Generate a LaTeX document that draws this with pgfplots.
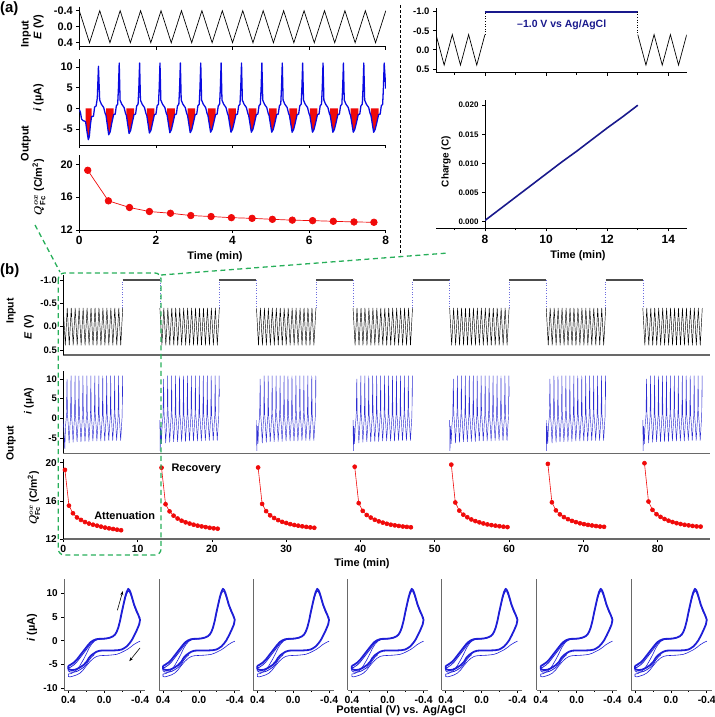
\documentclass[border=0pt]{standalone}
\usepackage{pgfplots}
\pgfplotsset{compat=1.18}
\usepackage{pgfplotstable}
\usepackage{fontspec}
\setmainfont{Liberation Sans}
\usetikzlibrary{arrows.meta}
\definecolor{cblue}{RGB}{10,10,225}
\definecolor{navy}{RGB}{25,25,140}
\definecolor{bblue}{RGB}{45,45,210}
\definecolor{cvblue}{RGB}{30,30,215}
\definecolor{cred}{RGB}{240,10,10}
\definecolor{cgreen}{RGB}{40,175,90}
\definecolor{spinegray}{RGB}{105,105,105}
\newcommand{\fs}[1]{\fontsize{#1}{#1}\selectfont\bfseries}
\pgfplotsset{
 base/.style={scale only axis, anchor=south west,
  axis x line=bottom, axis y line=left,
  tick align=outside, major tick length=3bp, minor tick length=1.8bp,
  every tick/.style={black, line width=0.7pt},
  axis line style={line width=0.8pt, -},
  /pgf/number format/assume math mode=true,
  ticklabel style={font=\fs{11}}},
 cvstyle/.style={base, width=80.7bp, height=110.7bp, x dir=reverse,
  xmin=-0.455, xmax=0.445, ymin=-10.35, ymax=12.9,
  xtick={-0.4,0,0.4}, xticklabels={-0.4,0.0,0.4}, minor xtick={-0.2,0.2},
  ticklabel style={font=\fs{10.5}}, axis line style={spinegray, line width=0.9pt}},
}
\pgfplotstableread{
E I
0.400 -5.3
0.380 -5.1
0.340 -4.6
0.307 -4.0
0.270 -3.1
0.233 -2.2
0.200 -1.4
0.177 -0.85
0.150 -0.3
0.121 0.07
0.090 0.3
0.065 0.38
0.009 0.42
-0.030 0.5
-0.065 0.65
-0.100 0.95
-0.121 1.3
-0.140 1.9
-0.158 2.8
-0.177 4.2
-0.195 5.9
-0.215 7.6
-0.233 9.1
-0.250 10.2
-0.268 10.9
-0.283 10.6
-0.296 10.0
-0.315 8.8
-0.333 7.6
-0.360 6.3
-0.381 5.4
-0.400 4.4
-0.390 3.4
-0.363 2.2
-0.335 1.1
-0.307 0.1
-0.280 -0.6
-0.251 -1.2
-0.220 -1.6
-0.195 -1.85
-0.150 -2.0
-0.102 -2.04
-0.050 -2.04
0.009 -2.04
0.050 -2.1
0.084 -2.3
0.110 -2.6
0.140 -3.0
0.170 -3.6
0.195 -4.4
0.230 -5.1
0.270 -5.6
0.300 -5.9
0.326 -6.1
0.360 -6.15
0.381 -6.1
0.400 -5.9
0.400 -5.3
}\cvA
\pgfplotstableread{
E I
0.110 -2.9
0.140 -3.4
0.170 -4.1
0.195 -4.9
0.230 -5.6
0.270 -6.1
0.300 -6.4
0.326 -6.55
0.360 -6.6
0.381 -6.55
0.400 -6.3
0.400 -5.7
0.380 -5.6
0.340 -5.1
0.307 -4.5
0.270 -3.6
0.233 -2.7
0.200 -1.9
0.177 -1.3
0.150 -0.65
0.121 -0.15
0.090 0.2
}\cvB
\pgfplotstableread{
E I
-0.400 -0.1
-0.370 -0.35
-0.326 -0.85
-0.290 -1.4
-0.251 -1.9
-0.210 -2.3
-0.177 -2.6
-0.140 -2.85
-0.102 -2.96
-0.050 -3.05
0.009 -3.1
0.050 -3.15
0.084 -3.3
0.120 -3.7
0.158 -4.37
0.200 -5.3
0.233 -6.13
0.270 -6.8
0.307 -7.18
0.350 -7.45
0.381 -7.6
0.400 -7.5
0.400 -7.0
0.370 -6.9
0.340 -6.6
0.300 -6.0
0.270 -5.2
0.233 -4.0
0.200 -2.8
0.170 -1.6
0.140 -0.7
0.110 -0.1
0.080 0.2
0.040 0.3
0.000 0.35
-0.050 0.5
-0.100 0.85
-0.130 1.5
-0.155 2.6
-0.180 4.3
-0.200 6.0
-0.225 8.2
-0.250 9.8
-0.268 10.4
-0.283 10.2
-0.300 9.4
-0.330 7.5
-0.360 6.0
-0.400 4.8
}\cvFirst
\begin{document}
\begin{tikzpicture}
\path[use as bounding box] (0bp,0bp) rectangle (715bp,-717bp);
% ================= (a) left: input =================
\begin{axis}[base, at={(79.3bp,-46.7bp)}, width=306.5bp, height=40bp,
 xmin=0, xmax=8, ymin=-0.5, ymax=0.5, y dir=reverse,
 xtick={0,2,4,6,8}, xticklabels={}, ytick={-0.4,0,0.4}, yticklabels={-0.4,0.0,0.4}]
\addplot[black, line width=0.7pt] coordinates {(0,-0.4)(0.2667,0.4)(0.5333,-0.4)(0.8,0.4)(1.0667,-0.4)(1.3333,0.4)(1.6,-0.4)(1.8667,0.4)(2.1333,-0.4)(2.4,0.4)(2.6667,-0.4)(2.9333,0.4)(3.2,-0.4)(3.4667,0.4)(3.7333,-0.4)(4,0.4)(4.2667,-0.4)(4.5333,0.4)(4.8,-0.4)(5.0667,0.4)(5.3333,-0.4)(5.6,0.4)(5.8667,-0.4)(6.1333,0.4)(6.4,-0.4)(6.6667,0.4)(6.9333,-0.4)(7.2,0.4)(7.4667,-0.4)(7.7333,0.4)(8,-0.4)};
\end{axis}
% ================= (a) left: current =================
\begin{axis}[base, at={(79.3bp,-145bp)}, width=306.5bp, height=85.7bp,
 xmin=0, xmax=8, ymin=-8.9, ymax=11.9,
 xtick={0,2,4,6,8}, xticklabels={}, ytick={-5,0,5,10}, yticklabels={-5,0,5,10}]
\addplot[fill=cred, draw=none] coordinates {(0.165,0)(0.165,-3.3)(0.20,-5.6)(0.235,-7.6)(0.26,-6.9)(0.29,-4.0)(0.32,-2.0)(0.32,0)};
\addplot[fill=cred, draw=none] coordinates {(0.697,0)(0.697,-1.7)(0.767,-6.4)(0.807,-5.7)(0.847,-3.6)(0.897,-1.5)(0.897,0)};
\addplot[fill=cred, draw=none] coordinates {(1.229,0)(1.229,-1.7)(1.299,-6.1)(1.339,-5.4)(1.379,-3.6)(1.429,-1.5)(1.429,0)};
\addplot[fill=cred, draw=none] coordinates {(1.761,0)(1.761,-1.7)(1.831,-6.0)(1.871,-5.3)(1.911,-3.6)(1.961,-1.5)(1.961,0)};
\addplot[fill=cred, draw=none] coordinates {(2.293,0)(2.293,-1.7)(2.363,-5.9)(2.403,-5.2)(2.443,-3.6)(2.493,-1.5)(2.493,0)};
\addplot[fill=cred, draw=none] coordinates {(2.825,0)(2.825,-1.7)(2.895,-5.9)(2.935,-5.2)(2.975,-3.6)(3.025,-1.5)(3.025,0)};
\addplot[fill=cred, draw=none] coordinates {(3.357,0)(3.357,-1.7)(3.427,-5.8)(3.467,-5.1)(3.507,-3.6)(3.557,-1.5)(3.557,0)};
\addplot[fill=cred, draw=none] coordinates {(3.889,0)(3.889,-1.7)(3.959,-5.8)(3.999,-5.1)(4.039,-3.6)(4.089,-1.5)(4.089,0)};
\addplot[fill=cred, draw=none] coordinates {(4.421,0)(4.421,-1.7)(4.491,-5.8)(4.531,-5.1)(4.571,-3.6)(4.621,-1.5)(4.621,0)};
\addplot[fill=cred, draw=none] coordinates {(4.953,0)(4.953,-1.7)(5.023,-5.8)(5.063,-5.1)(5.103,-3.6)(5.153,-1.5)(5.153,0)};
\addplot[fill=cred, draw=none] coordinates {(5.485,0)(5.485,-1.7)(5.555,-5.8)(5.595,-5.1)(5.635,-3.6)(5.685,-1.5)(5.685,0)};
\addplot[fill=cred, draw=none] coordinates {(6.017,0)(6.017,-1.7)(6.087,-5.8)(6.127,-5.1)(6.167,-3.6)(6.217,-1.5)(6.217,0)};
\addplot[fill=cred, draw=none] coordinates {(6.549,0)(6.549,-1.7)(6.619,-5.8)(6.659,-5.1)(6.699,-3.6)(6.749,-1.5)(6.749,0)};
\addplot[fill=cred, draw=none] coordinates {(7.081,0)(7.081,-1.7)(7.151,-5.8)(7.191,-5.1)(7.231,-3.6)(7.281,-1.5)(7.281,0)};
\addplot[fill=cred, draw=none] coordinates {(7.613,0)(7.613,-1.7)(7.683,-5.8)(7.723,-5.1)(7.763,-3.6)(7.813,-1.5)(7.813,0)};
\addplot[cblue, line width=1.3pt, line join=round] coordinates {
(0,-0.3)(0.03,-1.0)(0.06,-2.6)(0.10,-3.0)(0.14,-3.1)(0.165,-3.3)(0.20,-5.6)(0.235,-7.6)(0.26,-6.9)(0.29,-4.0)(0.32,-2.0)(0.37,-1.9)(0.40,0.3)(0.44,0.6)(0.47,2.5)(0.50,10.2)
(0.532,2.0)(0.577,1.0)(0.637,0.2)(0.677,-1.3)(0.697,-1.7)(0.767,-6.4)(0.807,-5.7)(0.847,-3.6)(0.897,-1.5)(0.937,-1.4)(0.967,0.6)(1.002,1.0)(1.022,5.0)(1.042,11.0)
(1.064,2.0)(1.109,1.0)(1.169,0.2)(1.209,-1.3)(1.229,-1.7)(1.299,-6.1)(1.339,-5.4)(1.379,-3.6)(1.429,-1.5)(1.469,-1.4)(1.499,0.6)(1.534,1.0)(1.554,5.0)(1.574,11.0)
(1.596,2.0)(1.641,1.0)(1.701,0.2)(1.741,-1.3)(1.761,-1.7)(1.831,-6.0)(1.871,-5.3)(1.911,-3.6)(1.961,-1.5)(2.001,-1.4)(2.031,0.6)(2.066,1.0)(2.086,5.0)(2.106,11.0)
(2.128,2.0)(2.173,1.0)(2.233,0.2)(2.273,-1.3)(2.293,-1.7)(2.363,-5.9)(2.403,-5.2)(2.443,-3.6)(2.493,-1.5)(2.533,-1.4)(2.563,0.6)(2.598,1.0)(2.618,5.0)(2.638,11.0)
(2.660,2.0)(2.705,1.0)(2.765,0.2)(2.805,-1.3)(2.825,-1.7)(2.895,-5.9)(2.935,-5.2)(2.975,-3.6)(3.025,-1.5)(3.065,-1.4)(3.095,0.6)(3.130,1.0)(3.150,5.0)(3.170,11.0)
(3.192,2.0)(3.237,1.0)(3.297,0.2)(3.337,-1.3)(3.357,-1.7)(3.427,-5.8)(3.467,-5.1)(3.507,-3.6)(3.557,-1.5)(3.597,-1.4)(3.627,0.6)(3.662,1.0)(3.682,5.0)(3.702,11.0)
(3.724,2.0)(3.769,1.0)(3.829,0.2)(3.869,-1.3)(3.889,-1.7)(3.959,-5.8)(3.999,-5.1)(4.039,-3.6)(4.089,-1.5)(4.129,-1.4)(4.159,0.6)(4.194,1.0)(4.214,5.0)(4.234,11.0)
(4.256,2.0)(4.301,1.0)(4.361,0.2)(4.401,-1.3)(4.421,-1.7)(4.491,-5.8)(4.531,-5.1)(4.571,-3.6)(4.621,-1.5)(4.661,-1.4)(4.691,0.6)(4.726,1.0)(4.746,5.0)(4.766,11.0)
(4.788,2.0)(4.833,1.0)(4.893,0.2)(4.933,-1.3)(4.953,-1.7)(5.023,-5.8)(5.063,-5.1)(5.103,-3.6)(5.153,-1.5)(5.193,-1.4)(5.223,0.6)(5.258,1.0)(5.278,5.0)(5.298,11.0)
(5.320,2.0)(5.365,1.0)(5.425,0.2)(5.465,-1.3)(5.485,-1.7)(5.555,-5.8)(5.595,-5.1)(5.635,-3.6)(5.685,-1.5)(5.725,-1.4)(5.755,0.6)(5.790,1.0)(5.810,5.0)(5.830,11.0)
(5.852,2.0)(5.897,1.0)(5.957,0.2)(5.997,-1.3)(6.017,-1.7)(6.087,-5.8)(6.127,-5.1)(6.167,-3.6)(6.217,-1.5)(6.257,-1.4)(6.287,0.6)(6.322,1.0)(6.342,5.0)(6.362,11.0)
(6.384,2.0)(6.429,1.0)(6.489,0.2)(6.529,-1.3)(6.549,-1.7)(6.619,-5.8)(6.659,-5.1)(6.699,-3.6)(6.749,-1.5)(6.789,-1.4)(6.819,0.6)(6.854,1.0)(6.874,5.0)(6.894,11.0)
(6.916,2.0)(6.961,1.0)(7.021,0.2)(7.061,-1.3)(7.081,-1.7)(7.151,-5.8)(7.191,-5.1)(7.231,-3.6)(7.281,-1.5)(7.321,-1.4)(7.351,0.6)(7.386,1.0)(7.406,5.0)(7.426,11.0)
(7.448,2.0)(7.493,1.0)(7.553,0.2)(7.593,-1.3)(7.613,-1.7)(7.683,-5.8)(7.723,-5.1)(7.763,-3.6)(7.813,-1.5)(7.853,-1.4)(7.883,0.6)(7.918,1.0)(7.938,5.0)(7.958,11.0)
(8.0,4.8)};
\end{axis}
% ================= (a) left: Q =================
\begin{axis}[base, at={(79.3bp,-230bp)}, width=306.5bp, height=75bp,
 xmin=0, xmax=8, ymin=12, ymax=21.13,
 xtick={0,2,4,6,8}, xticklabels={0,2,4,6,8}, ytick={12,16,20}, yticklabels={12,16,20},
 xticklabel style={font=\fs{12}}]
\addplot[cred, line width=0.7pt, mark=*, mark size=3.3bp] coordinates {(0.22,19.27)(0.76,15.55)(1.31,14.74)(1.83,14.25)(2.38,14.04)(2.91,13.76)(3.44,13.64)(3.97,13.5)(4.51,13.42)(5.04,13.3)(5.56,13.2)(6.09,13.14)(6.63,13.06)(7.17,12.98)(7.69,12.94)};
\end{axis}
% ================= (a) right: input =================
\begin{axis}[base, at={(436bp,-72.7bp)}, width=250.7bp, height=64.4bp,
 xmin=6.4, xmax=14.6, ymin=-1.09, ymax=0.6, y dir=reverse,
 xtick={8,10,12,14}, minor xtick={7,9,11,13}, xticklabels={},
 ytick={-1,-0.5,0,0.5}, yticklabels={-1.0,-0.5,0.0,0.5}, yticklabel style={font=\fs{9.5}}]
\addplot[black, line width=0.7pt] coordinates {(6.4,-0.4)(6.667,0.4)(6.933,-0.4)(7.2,0.4)(7.467,-0.4)(7.733,0.4)(8.0,-0.4)};
\addplot[black, dotted, line width=0.6pt] coordinates {(8,-0.4)(8,-1.0)};
\addplot[navy, line width=1.6pt] coordinates {(8,-1.0)(13,-1.0)};
\addplot[black, dotted, line width=0.6pt] coordinates {(13,-1.0)(13,-0.4)};
\addplot[black, line width=0.7pt] coordinates {(13,-0.4)(13.267,0.4)(13.533,-0.4)(13.8,0.4)(14.067,-0.4)(14.333,0.4)(14.6,-0.4)};
\end{axis}
% ================= (a) right: charge =================
\begin{axis}[base, at={(485bp,-228.3bp)}, width=201.7bp, height=128.3bp,
 xmin=8, xmax=14.6, ymin=-0.00115, ymax=0.0209, axis x line=none,
 scaled y ticks=false, ytick={0,0.005,0.01,0.015,0.02},
 yticklabels={0.000,0.005,0.010,0.015,0.020}, yticklabel style={font=\fs{8}}]
\addplot[navy, line width=1.6pt] coordinates {(8.0,0.0002)(8.5,0.0022)(9,0.0042)(9.5,0.0062)(10,0.0082)(10.5,0.0102)(11,0.0121)(11.5,0.0141)(12,0.0161)(12.5,0.0180)(13,0.0200)};
\end{axis}
\begin{axis}[base, at={(436bp,-228.3bp)}, width=250.7bp, height=128.3bp,
 xmin=6.4, xmax=14.6, ymin=0, ymax=1, axis y line=none,
 xtick={8,10,12,14}, minor xtick={7,9,11,13}, xticklabels={8,10,12,14}, xticklabel style={font=\fs{12}}]
\addplot[draw=none] coordinates {(8,0.5)};
\end{axis}
% ================= (b) input =================
\begin{axis}[base, at={(63.3bp,-355bp)}, width=646.7bp, height=80bp,
 xmin=0, xmax=87.04, ymin=-1.107, ymax=0.607, y dir=reverse,
 xtick=\empty, ytick={-1,-0.5,0,0.5}, yticklabels={-1.0,-0.5,0.0,0.5},
 yticklabel style={font=\fs{9.5}}, x axis line style={spinegray, line width=1.5pt}]
\addplot[black, line width=0.45pt] coordinates {(0,-0.4)(0.27,0.4)(0.53,-0.4)(0.8,0.4)(1.07,-0.4)(1.33,0.4)(1.6,-0.4)(1.87,0.4)(2.13,-0.4)(2.4,0.4)(2.67,-0.4)(2.93,0.4)(3.2,-0.4)(3.47,0.4)(3.73,-0.4)(4,0.4)(4.27,-0.4)(4.53,0.4)(4.8,-0.4)(5.07,0.4)(5.33,-0.4)(5.6,0.4)(5.87,-0.4)(6.13,0.4)(6.4,-0.4)(6.67,0.4)(6.93,-0.4)(7.2,0.4)(7.47,-0.4)(7.73,0.4)(8,-0.4)};
\addplot[black, line width=0.45pt] coordinates {(13,-0.4)(13.27,0.4)(13.53,-0.4)(13.8,0.4)(14.07,-0.4)(14.33,0.4)(14.6,-0.4)(14.87,0.4)(15.13,-0.4)(15.4,0.4)(15.67,-0.4)(15.93,0.4)(16.2,-0.4)(16.47,0.4)(16.73,-0.4)(17,0.4)(17.27,-0.4)(17.53,0.4)(17.8,-0.4)(18.07,0.4)(18.33,-0.4)(18.6,0.4)(18.87,-0.4)(19.13,0.4)(19.4,-0.4)(19.67,0.4)(19.93,-0.4)(20.2,0.4)(20.47,-0.4)(20.73,0.4)(21,-0.4)};
\addplot[black, line width=0.45pt] coordinates {(26,-0.4)(26.27,0.4)(26.53,-0.4)(26.8,0.4)(27.07,-0.4)(27.33,0.4)(27.6,-0.4)(27.87,0.4)(28.13,-0.4)(28.4,0.4)(28.67,-0.4)(28.93,0.4)(29.2,-0.4)(29.47,0.4)(29.73,-0.4)(30,0.4)(30.27,-0.4)(30.53,0.4)(30.8,-0.4)(31.07,0.4)(31.33,-0.4)(31.6,0.4)(31.87,-0.4)(32.13,0.4)(32.4,-0.4)(32.67,0.4)(32.93,-0.4)(33.2,0.4)(33.47,-0.4)(33.73,0.4)(34,-0.4)};
\addplot[black, line width=0.45pt] coordinates {(39,-0.4)(39.27,0.4)(39.53,-0.4)(39.8,0.4)(40.07,-0.4)(40.33,0.4)(40.6,-0.4)(40.87,0.4)(41.13,-0.4)(41.4,0.4)(41.67,-0.4)(41.93,0.4)(42.2,-0.4)(42.47,0.4)(42.73,-0.4)(43,0.4)(43.27,-0.4)(43.53,0.4)(43.8,-0.4)(44.07,0.4)(44.33,-0.4)(44.6,0.4)(44.87,-0.4)(45.13,0.4)(45.4,-0.4)(45.67,0.4)(45.93,-0.4)(46.2,0.4)(46.47,-0.4)(46.73,0.4)(47,-0.4)};
\addplot[black, line width=0.45pt] coordinates {(52,-0.4)(52.27,0.4)(52.53,-0.4)(52.8,0.4)(53.07,-0.4)(53.33,0.4)(53.6,-0.4)(53.87,0.4)(54.13,-0.4)(54.4,0.4)(54.67,-0.4)(54.93,0.4)(55.2,-0.4)(55.47,0.4)(55.73,-0.4)(56,0.4)(56.27,-0.4)(56.53,0.4)(56.8,-0.4)(57.07,0.4)(57.33,-0.4)(57.6,0.4)(57.87,-0.4)(58.13,0.4)(58.4,-0.4)(58.67,0.4)(58.93,-0.4)(59.2,0.4)(59.47,-0.4)(59.73,0.4)(60,-0.4)};
\addplot[black, line width=0.45pt] coordinates {(65,-0.4)(65.27,0.4)(65.53,-0.4)(65.8,0.4)(66.07,-0.4)(66.33,0.4)(66.6,-0.4)(66.87,0.4)(67.13,-0.4)(67.4,0.4)(67.67,-0.4)(67.93,0.4)(68.2,-0.4)(68.47,0.4)(68.73,-0.4)(69,0.4)(69.27,-0.4)(69.53,0.4)(69.8,-0.4)(70.07,0.4)(70.33,-0.4)(70.6,0.4)(70.87,-0.4)(71.13,0.4)(71.4,-0.4)(71.67,0.4)(71.93,-0.4)(72.2,0.4)(72.47,-0.4)(72.73,0.4)(73,-0.4)};
\addplot[black, line width=0.45pt] coordinates {(78,-0.4)(78.27,0.4)(78.53,-0.4)(78.8,0.4)(79.07,-0.4)(79.33,0.4)(79.6,-0.4)(79.87,0.4)(80.13,-0.4)(80.4,0.4)(80.67,-0.4)(80.93,0.4)(81.2,-0.4)(81.47,0.4)(81.73,-0.4)(82,0.4)(82.27,-0.4)(82.53,0.4)(82.8,-0.4)(83.07,0.4)(83.33,-0.4)(83.6,0.4)(83.87,-0.4)(84.13,0.4)(84.4,-0.4)(84.67,0.4)(84.93,-0.4)(85.2,0.4)(85.47,-0.4)(85.73,0.4)(86,-0.4)};
\addplot[black!70, line width=1.2pt, unbounded coords=jump] coordinates {(8,-1)(13,-1)(13,nan)(21,-1)(26,-1)(26,nan)(34,-1)(39,-1)(39,nan)(47,-1)(52,-1)(52,nan)(60,-1)(65,-1)(65,nan)(73,-1)(78,-1)};
\addplot[bblue!70, dotted, line width=0.6pt, unbounded coords=jump] coordinates {(8,-0.4)(8,-1)(8,nan)(13,-1)(13,-0.4)(13,nan)(21,-0.4)(21,-1)(21,nan)(26,-1)(26,-0.4)(26,nan)(34,-0.4)(34,-1)(34,nan)(39,-1)(39,-0.4)(39,nan)(47,-0.4)(47,-1)(47,nan)(52,-1)(52,-0.4)(52,nan)(60,-0.4)(60,-1)(60,nan)(65,-1)(65,-0.4)(65,nan)(73,-0.4)(73,-1)(73,nan)(78,-1)(78,-0.4)};
\end{axis}
% ================= (b) current =================
\begin{axis}[base, at={(63.3bp,-453.3bp)}, width=646.7bp, height=82.3bp,
 xmin=0, xmax=87.04, ymin=-8.9, ymax=12.0,
 xtick=\empty, ytick={-5,0,5,10}, yticklabels={-5,0,5,10},
 yticklabel style={font=\fs{9.5}}, x axis line style={spinegray, line width=1.5pt}]
\addplot[bblue, line width=0.45pt] coordinates {(0,-0.5)(0.08,-3.0)(0.20,-7.8)(0.30,-2.0)(0.42,0.5)(0.50,10.0)
(0.56,1.0)(0.66,-1.5)(0.78,-6.3)(0.91,-1.5)(0.98,0.5)(1.04,10.8)(1.10,1.0)(1.20,-1.5)(1.32,-6.1)(1.45,-1.5)(1.52,0.5)(1.58,10.8)
(1.63,1.0)(1.73,-1.5)(1.85,-6.0)(1.98,-1.5)(2.05,0.5)(2.11,10.8)(2.16,1.0)(2.26,-1.5)(2.38,-6.0)(2.51,-1.5)(2.58,0.5)(2.64,10.8)
(2.70,1.0)(2.80,-1.5)(2.92,-5.9)(3.05,-1.5)(3.12,0.5)(3.18,10.8)(3.23,1.0)(3.33,-1.5)(3.45,-5.9)(3.58,-1.5)(3.65,0.5)(3.71,10.8)
(3.76,1.0)(3.86,-1.5)(3.98,-5.8)(4.11,-1.5)(4.18,0.5)(4.24,10.8)(4.30,1.0)(4.40,-1.5)(4.52,-5.8)(4.65,-1.5)(4.72,0.5)(4.78,10.8)
(4.83,1.0)(4.93,-1.5)(5.05,-5.8)(5.18,-1.5)(5.25,0.5)(5.31,10.8)(5.36,1.0)(5.46,-1.5)(5.58,-5.8)(5.71,-1.5)(5.78,0.5)(5.84,10.8)
(5.90,1.0)(6.00,-1.5)(6.12,-5.7)(6.25,-1.5)(6.32,0.5)(6.38,10.8)(6.43,1.0)(6.53,-1.5)(6.65,-5.7)(6.78,-1.5)(6.85,0.5)(6.91,10.8)
(6.96,1.0)(7.06,-1.5)(7.18,-5.7)(7.31,-1.5)(7.38,0.5)(7.44,10.8)(7.50,1.0)(7.60,-1.5)(7.72,-5.7)(7.85,-1.5)(7.92,0.5)(7.98,10.8)(8.00,5.5)};
\addplot[bblue, line width=0.45pt] coordinates {(13,-0.5)(13.04,-8.3)(13.12,-2.0)(13.20,-6.5)(13.30,-2.0)(13.42,0.5)(13.50,10.0)
(13.56,1.0)(13.66,-1.5)(13.78,-6.3)(13.91,-1.5)(13.98,0.5)(14.04,10.8)(14.10,1.0)(14.20,-1.5)(14.32,-6.1)(14.45,-1.5)(14.52,0.5)(14.58,10.8)
(14.63,1.0)(14.73,-1.5)(14.85,-6.0)(14.98,-1.5)(15.05,0.5)(15.11,10.8)(15.16,1.0)(15.26,-1.5)(15.38,-6.0)(15.51,-1.5)(15.58,0.5)(15.64,10.8)
(15.70,1.0)(15.80,-1.5)(15.92,-5.9)(16.05,-1.5)(16.12,0.5)(16.18,10.8)(16.23,1.0)(16.33,-1.5)(16.45,-5.9)(16.58,-1.5)(16.65,0.5)(16.71,10.8)
(16.76,1.0)(16.86,-1.5)(16.98,-5.8)(17.11,-1.5)(17.18,0.5)(17.24,10.8)(17.30,1.0)(17.40,-1.5)(17.52,-5.8)(17.65,-1.5)(17.72,0.5)(17.78,10.8)
(17.83,1.0)(17.93,-1.5)(18.05,-5.8)(18.18,-1.5)(18.25,0.5)(18.31,10.8)(18.36,1.0)(18.46,-1.5)(18.58,-5.8)(18.71,-1.5)(18.78,0.5)(18.84,10.8)
(18.90,1.0)(19.00,-1.5)(19.12,-5.7)(19.25,-1.5)(19.32,0.5)(19.38,10.8)(19.43,1.0)(19.53,-1.5)(19.65,-5.7)(19.78,-1.5)(19.85,0.5)(19.91,10.8)
(19.96,1.0)(20.06,-1.5)(20.18,-5.7)(20.31,-1.5)(20.38,0.5)(20.44,10.8)(20.50,1.0)(20.60,-1.5)(20.72,-5.7)(20.85,-1.5)(20.92,0.5)(20.98,10.8)(21.00,5.5)};
\addplot[bblue, line width=0.45pt] coordinates {(26,-0.5)(26.04,-8.3)(26.12,-2.0)(26.20,-6.5)(26.30,-2.0)(26.42,0.5)(26.50,10.0)
(26.56,1.0)(26.66,-1.5)(26.78,-6.3)(26.91,-1.5)(26.98,0.5)(27.04,10.8)(27.10,1.0)(27.20,-1.5)(27.32,-6.1)(27.45,-1.5)(27.52,0.5)(27.58,10.8)
(27.63,1.0)(27.73,-1.5)(27.85,-6.0)(27.98,-1.5)(28.05,0.5)(28.11,10.8)(28.16,1.0)(28.26,-1.5)(28.38,-6.0)(28.51,-1.5)(28.58,0.5)(28.64,10.8)
(28.70,1.0)(28.80,-1.5)(28.92,-5.9)(29.05,-1.5)(29.12,0.5)(29.18,10.8)(29.23,1.0)(29.33,-1.5)(29.45,-5.9)(29.58,-1.5)(29.65,0.5)(29.71,10.8)
(29.76,1.0)(29.86,-1.5)(29.98,-5.8)(30.11,-1.5)(30.18,0.5)(30.24,10.8)(30.30,1.0)(30.40,-1.5)(30.52,-5.8)(30.65,-1.5)(30.72,0.5)(30.78,10.8)
(30.83,1.0)(30.93,-1.5)(31.05,-5.8)(31.18,-1.5)(31.25,0.5)(31.31,10.8)(31.36,1.0)(31.46,-1.5)(31.58,-5.8)(31.71,-1.5)(31.78,0.5)(31.84,10.8)
(31.90,1.0)(32.00,-1.5)(32.12,-5.7)(32.25,-1.5)(32.32,0.5)(32.38,10.8)(32.43,1.0)(32.53,-1.5)(32.65,-5.7)(32.78,-1.5)(32.85,0.5)(32.91,10.8)
(32.96,1.0)(33.06,-1.5)(33.18,-5.7)(33.31,-1.5)(33.38,0.5)(33.44,10.8)(33.50,1.0)(33.60,-1.5)(33.72,-5.7)(33.85,-1.5)(33.92,0.5)(33.98,10.8)(34.00,5.5)};
\addplot[bblue, line width=0.45pt] coordinates {(39,-0.5)(39.04,-8.3)(39.12,-2.0)(39.20,-6.5)(39.30,-2.0)(39.42,0.5)(39.50,10.0)
(39.56,1.0)(39.66,-1.5)(39.78,-6.3)(39.91,-1.5)(39.98,0.5)(40.04,10.8)(40.10,1.0)(40.20,-1.5)(40.32,-6.1)(40.45,-1.5)(40.52,0.5)(40.58,10.8)
(40.63,1.0)(40.73,-1.5)(40.85,-6.0)(40.98,-1.5)(41.05,0.5)(41.11,10.8)(41.16,1.0)(41.26,-1.5)(41.38,-6.0)(41.51,-1.5)(41.58,0.5)(41.64,10.8)
(41.70,1.0)(41.80,-1.5)(41.92,-5.9)(42.05,-1.5)(42.12,0.5)(42.18,10.8)(42.23,1.0)(42.33,-1.5)(42.45,-5.9)(42.58,-1.5)(42.65,0.5)(42.71,10.8)
(42.76,1.0)(42.86,-1.5)(42.98,-5.8)(43.11,-1.5)(43.18,0.5)(43.24,10.8)(43.30,1.0)(43.40,-1.5)(43.52,-5.8)(43.65,-1.5)(43.72,0.5)(43.78,10.8)
(43.83,1.0)(43.93,-1.5)(44.05,-5.8)(44.18,-1.5)(44.25,0.5)(44.31,10.8)(44.36,1.0)(44.46,-1.5)(44.58,-5.8)(44.71,-1.5)(44.78,0.5)(44.84,10.8)
(44.90,1.0)(45.00,-1.5)(45.12,-5.7)(45.25,-1.5)(45.32,0.5)(45.38,10.8)(45.43,1.0)(45.53,-1.5)(45.65,-5.7)(45.78,-1.5)(45.85,0.5)(45.91,10.8)
(45.96,1.0)(46.06,-1.5)(46.18,-5.7)(46.31,-1.5)(46.38,0.5)(46.44,10.8)(46.50,1.0)(46.60,-1.5)(46.72,-5.7)(46.85,-1.5)(46.92,0.5)(46.98,10.8)(47.00,5.5)};
\addplot[bblue, line width=0.45pt] coordinates {(52,-0.5)(52.04,-8.3)(52.12,-2.0)(52.20,-6.5)(52.30,-2.0)(52.42,0.5)(52.50,10.0)
(52.56,1.0)(52.66,-1.5)(52.78,-6.3)(52.91,-1.5)(52.98,0.5)(53.04,10.8)(53.10,1.0)(53.20,-1.5)(53.32,-6.1)(53.45,-1.5)(53.52,0.5)(53.58,10.8)
(53.63,1.0)(53.73,-1.5)(53.85,-6.0)(53.98,-1.5)(54.05,0.5)(54.11,10.8)(54.16,1.0)(54.26,-1.5)(54.38,-6.0)(54.51,-1.5)(54.58,0.5)(54.64,10.8)
(54.70,1.0)(54.80,-1.5)(54.92,-5.9)(55.05,-1.5)(55.12,0.5)(55.18,10.8)(55.23,1.0)(55.33,-1.5)(55.45,-5.9)(55.58,-1.5)(55.65,0.5)(55.71,10.8)
(55.76,1.0)(55.86,-1.5)(55.98,-5.8)(56.11,-1.5)(56.18,0.5)(56.24,10.8)(56.30,1.0)(56.40,-1.5)(56.52,-5.8)(56.65,-1.5)(56.72,0.5)(56.78,10.8)
(56.83,1.0)(56.93,-1.5)(57.05,-5.8)(57.18,-1.5)(57.25,0.5)(57.31,10.8)(57.36,1.0)(57.46,-1.5)(57.58,-5.8)(57.71,-1.5)(57.78,0.5)(57.84,10.8)
(57.90,1.0)(58.00,-1.5)(58.12,-5.7)(58.25,-1.5)(58.32,0.5)(58.38,10.8)(58.43,1.0)(58.53,-1.5)(58.65,-5.7)(58.78,-1.5)(58.85,0.5)(58.91,10.8)
(58.96,1.0)(59.06,-1.5)(59.18,-5.7)(59.31,-1.5)(59.38,0.5)(59.44,10.8)(59.50,1.0)(59.60,-1.5)(59.72,-5.7)(59.85,-1.5)(59.92,0.5)(59.98,10.8)(60.00,5.5)};
\addplot[bblue, line width=0.45pt] coordinates {(65,-0.5)(65.04,-8.3)(65.12,-2.0)(65.20,-6.5)(65.30,-2.0)(65.42,0.5)(65.50,10.0)
(65.56,1.0)(65.66,-1.5)(65.78,-6.3)(65.91,-1.5)(65.98,0.5)(66.04,10.8)(66.10,1.0)(66.20,-1.5)(66.32,-6.1)(66.45,-1.5)(66.52,0.5)(66.58,10.8)
(66.63,1.0)(66.73,-1.5)(66.85,-6.0)(66.98,-1.5)(67.05,0.5)(67.11,10.8)(67.16,1.0)(67.26,-1.5)(67.38,-6.0)(67.51,-1.5)(67.58,0.5)(67.64,10.8)
(67.70,1.0)(67.80,-1.5)(67.92,-5.9)(68.05,-1.5)(68.12,0.5)(68.18,10.8)(68.23,1.0)(68.33,-1.5)(68.45,-5.9)(68.58,-1.5)(68.65,0.5)(68.71,10.8)
(68.76,1.0)(68.86,-1.5)(68.98,-5.8)(69.11,-1.5)(69.18,0.5)(69.24,10.8)(69.30,1.0)(69.40,-1.5)(69.52,-5.8)(69.65,-1.5)(69.72,0.5)(69.78,10.8)
(69.83,1.0)(69.93,-1.5)(70.05,-5.8)(70.18,-1.5)(70.25,0.5)(70.31,10.8)(70.36,1.0)(70.46,-1.5)(70.58,-5.8)(70.71,-1.5)(70.78,0.5)(70.84,10.8)
(70.90,1.0)(71.00,-1.5)(71.12,-5.7)(71.25,-1.5)(71.32,0.5)(71.38,10.8)(71.43,1.0)(71.53,-1.5)(71.65,-5.7)(71.78,-1.5)(71.85,0.5)(71.91,10.8)
(71.96,1.0)(72.06,-1.5)(72.18,-5.7)(72.31,-1.5)(72.38,0.5)(72.44,10.8)(72.50,1.0)(72.60,-1.5)(72.72,-5.7)(72.85,-1.5)(72.92,0.5)(72.98,10.8)(73.00,5.5)};
\addplot[bblue, line width=0.45pt] coordinates {(78,-0.5)(78.04,-8.3)(78.12,-2.0)(78.20,-6.5)(78.30,-2.0)(78.42,0.5)(78.50,10.0)
(78.56,1.0)(78.66,-1.5)(78.78,-6.3)(78.91,-1.5)(78.98,0.5)(79.04,10.8)(79.10,1.0)(79.20,-1.5)(79.32,-6.1)(79.45,-1.5)(79.52,0.5)(79.58,10.8)
(79.63,1.0)(79.73,-1.5)(79.85,-6.0)(79.98,-1.5)(80.05,0.5)(80.11,10.8)(80.16,1.0)(80.26,-1.5)(80.38,-6.0)(80.51,-1.5)(80.58,0.5)(80.64,10.8)
(80.70,1.0)(80.80,-1.5)(80.92,-5.9)(81.05,-1.5)(81.12,0.5)(81.18,10.8)(81.23,1.0)(81.33,-1.5)(81.45,-5.9)(81.58,-1.5)(81.65,0.5)(81.71,10.8)
(81.76,1.0)(81.86,-1.5)(81.98,-5.8)(82.11,-1.5)(82.18,0.5)(82.24,10.8)(82.30,1.0)(82.40,-1.5)(82.52,-5.8)(82.65,-1.5)(82.72,0.5)(82.78,10.8)
(82.83,1.0)(82.93,-1.5)(83.05,-5.8)(83.18,-1.5)(83.25,0.5)(83.31,10.8)(83.36,1.0)(83.46,-1.5)(83.58,-5.8)(83.71,-1.5)(83.78,0.5)(83.84,10.8)
(83.90,1.0)(84.00,-1.5)(84.12,-5.7)(84.25,-1.5)(84.32,0.5)(84.38,10.8)(84.43,1.0)(84.53,-1.5)(84.65,-5.7)(84.78,-1.5)(84.85,0.5)(84.91,10.8)
(84.96,1.0)(85.06,-1.5)(85.18,-5.7)(85.31,-1.5)(85.38,0.5)(85.44,10.8)(85.50,1.0)(85.60,-1.5)(85.72,-5.7)(85.85,-1.5)(85.92,0.5)(85.98,10.8)(86.00,5.5)};
\end{axis}
% ================= (b) Q =================
\begin{axis}[base, at={(63.3bp,-539bp)}, width=646.7bp, height=80bp,
 xmin=0, xmax=87.04, ymin=12, ymax=20.39,
 xtick={0,10,20,30,40,50,60,70,80}, xticklabels={0,10,20,30,40,50,60,70,80},
 ytick={12,16,20}, yticklabels={12,16,20},
 xticklabel style={font=\fs{10.5}}, yticklabel style={font=\fs{10}},
 x axis line style={spinegray, line width=1.5pt}]
\pgfplotsset{qline/.style={cred, line width=0.6pt, mark=*, mark size=2bp}}
\addplot[qline] coordinates {(0.22,19.25)(0.76,15.5)(1.3,14.7)(1.84,14.26)(2.38,14.0)(2.92,13.78)(3.46,13.62)(4.0,13.5)(4.54,13.4)(5.08,13.3)(5.62,13.2)(6.16,13.12)(6.7,13.05)(7.24,12.98)(7.78,12.92)};
\addplot[qline] coordinates {(13.22,19.48)(13.76,15.65)(14.3,14.9)(14.84,14.45)(15.38,14.15)(15.92,13.92)(16.46,13.75)(17.0,13.62)(17.54,13.5)(18.08,13.4)(18.62,13.32)(19.16,13.25)(19.7,13.18)(20.24,13.12)(20.78,13.08)};
\addplot[qline] coordinates {(26.22,19.5)(26.76,15.68)(27.3,14.92)(27.84,14.48)(28.38,14.2)(28.92,13.98)(29.46,13.8)(30.0,13.68)(30.54,13.56)(31.08,13.47)(31.62,13.4)(32.16,13.33)(32.7,13.27)(33.24,13.22)(33.78,13.18)};
\addplot[qline] coordinates {(39.22,19.58)(39.76,15.76)(40.3,14.95)(40.84,14.52)(41.38,14.25)(41.92,14.02)(42.46,13.85)(43.0,13.72)(43.54,13.6)(44.08,13.5)(44.62,13.43)(45.16,13.37)(45.7,13.31)(46.24,13.27)(46.78,13.23)};
\addplot[qline] coordinates {(52.22,19.8)(52.76,15.83)(53.3,14.98)(53.84,14.55)(54.38,14.28)(54.92,14.05)(55.46,13.88)(56.0,13.75)(56.54,13.63)(57.08,13.53)(57.62,13.46)(58.16,13.4)(58.7,13.34)(59.24,13.29)(59.78,13.25)};
\addplot[qline] coordinates {(65.22,19.88)(65.76,15.85)(66.3,15.0)(66.84,14.58)(67.38,14.3)(67.92,14.08)(68.46,13.9)(69.0,13.77)(69.54,13.65)(70.08,13.56)(70.62,13.48)(71.16,13.42)(71.7,13.36)(72.24,13.31)(72.78,13.28)};
\addplot[qline] coordinates {(78.22,19.95)(78.76,15.93)(79.3,15.05)(79.84,14.6)(80.38,14.32)(80.92,14.1)(81.46,13.92)(82.0,13.78)(82.54,13.66)(83.08,13.57)(83.62,13.49)(84.16,13.43)(84.7,13.37)(85.24,13.32)(85.78,13.3)};
\end{axis}
% ================= CV panels =================
\begin{axis}[cvstyle, at={(64.3bp,-690bp)}, ytick={-10,-5,0,5,10}, yticklabels={-10,-5,0,5,10}, yticklabel style={font=\fs{10}}]
\addplot[cvblue, line width=0.6pt] table[x=E, y=I] {\cvFirst};
\addplot[cvblue, line width=0.8pt] table[x=E, y=I] {\cvB};
\addplot[cvblue, line width=1.8pt, line join=round] table[x=E, y=I] {\cvA};
\draw[black, line width=0.6pt, -{Stealth[length=4bp, width=3bp]}] (axis cs:-0.147,6.4) -- (axis cs:-0.207,10.4);
\draw[black, line width=0.6pt, -{Stealth[length=4bp, width=3bp]}] (axis cs:-0.40,-1.5) -- (axis cs:-0.28,-4.3);
\end{axis}
\foreach \xx in {159,253.3,347.8,441.7,536.7,631}{
\begin{axis}[cvstyle, at={(\xx bp,-690bp)}, ytick=\empty]
\addplot[cvblue, line width=0.6pt] table[x=E, y=I] {\cvFirst};
\addplot[cvblue, line width=0.8pt] table[x=E, y=I] {\cvB};
\addplot[cvblue, line width=1.8pt, line join=round] table[x=E, y=I] {\cvA};
\end{axis}
}
% ================= annotations =================
\draw[black, dash pattern=on 3bp off 2bp, line width=0.8bp] (400bp,-5bp) -- (400bp,-255bp);
\draw[cgreen, dash pattern=on 5bp off 3.5bp, line width=1.3bp] (35bp,-225bp) -- (60bp,-272bp);
\draw[cgreen, dash pattern=on 5bp off 3.5bp, line width=1.3bp, rounded corners=6bp] (58.3bp,-273bp) rectangle (161bp,-555bp);
\draw[cgreen, dash pattern=on 5bp off 3.5bp, line width=1.3bp] (161bp,-275bp) -- (448bp,-253bp);
% labels
\node[font=\fs{15}, anchor=north west, inner sep=0] at (0bp,-1bp) {(a)};
\node[font=\fs{15}, anchor=north west, inner sep=0] at (0bp,-263bp) {(b)};
\node[rotate=90, font=\fs{11}] at (26bp,-34bp) {Input};
\node[rotate=90, font=\fs{11}] at (38.5bp,-27bp) {\textit{E} (V)};
\node[rotate=90, font=\fs{11}] at (38.5bp,-98bp) {\textit{i} (µA)};
\node[rotate=90, font=\fs{11}] at (26bp,-143.5bp) {Output};
\node[rotate=90, font=\fs{11}\boldmath] at (39bp,-187bp) {$Q^{ox}_{\mathrm{Fc}}$ (C/m\textsuperscript{2})};
\node[font=\fs{11}] at (215bp,-257bp) {Time (min)};
\node[font=\fs{10.5}, text=navy] at (561.7bp,-25bp) {\textendash1.0 V vs Ag/AgCl};
\node[rotate=90, font=\fs{10}] at (446bp,-161.7bp) {Charge (C)};
\node[font=\fs{11}] at (578bp,-256bp) {Time (min)};
\node[rotate=90, font=\fs{10.5}] at (11bp,-311bp) {Input};
\node[rotate=90, font=\fs{10.5}] at (29bp,-327bp) {\textit{E} (V)};
\node[rotate=90, font=\fs{10.5}] at (29bp,-401bp) {\textit{i} (µA)};
\node[rotate=90, font=\fs{10.5}] at (11bp,-443bp) {Output};
\node[rotate=90, font=\fs{10.5}\boldmath] at (34bp,-498bp) {$Q^{ox}_{\mathrm{Fc}}$ (C/m\textsuperscript{2})};
\node[font=\fs{11}] at (362bp,-564bp) {Time (min)};
\node[font=\fs{11}, anchor=west] at (168bp,-469bp) {Recovery};
\node[font=\fs{11}] at (124.7bp,-516bp) {Attenuation};
\node[rotate=90, font=\fs{11}] at (32bp,-628bp) {\textit{i} (µA)};
\node[font=\fs{11}] at (401bp,-711bp) {Potential (V) vs. Ag/AgCl};
\end{tikzpicture}
\end{document}
